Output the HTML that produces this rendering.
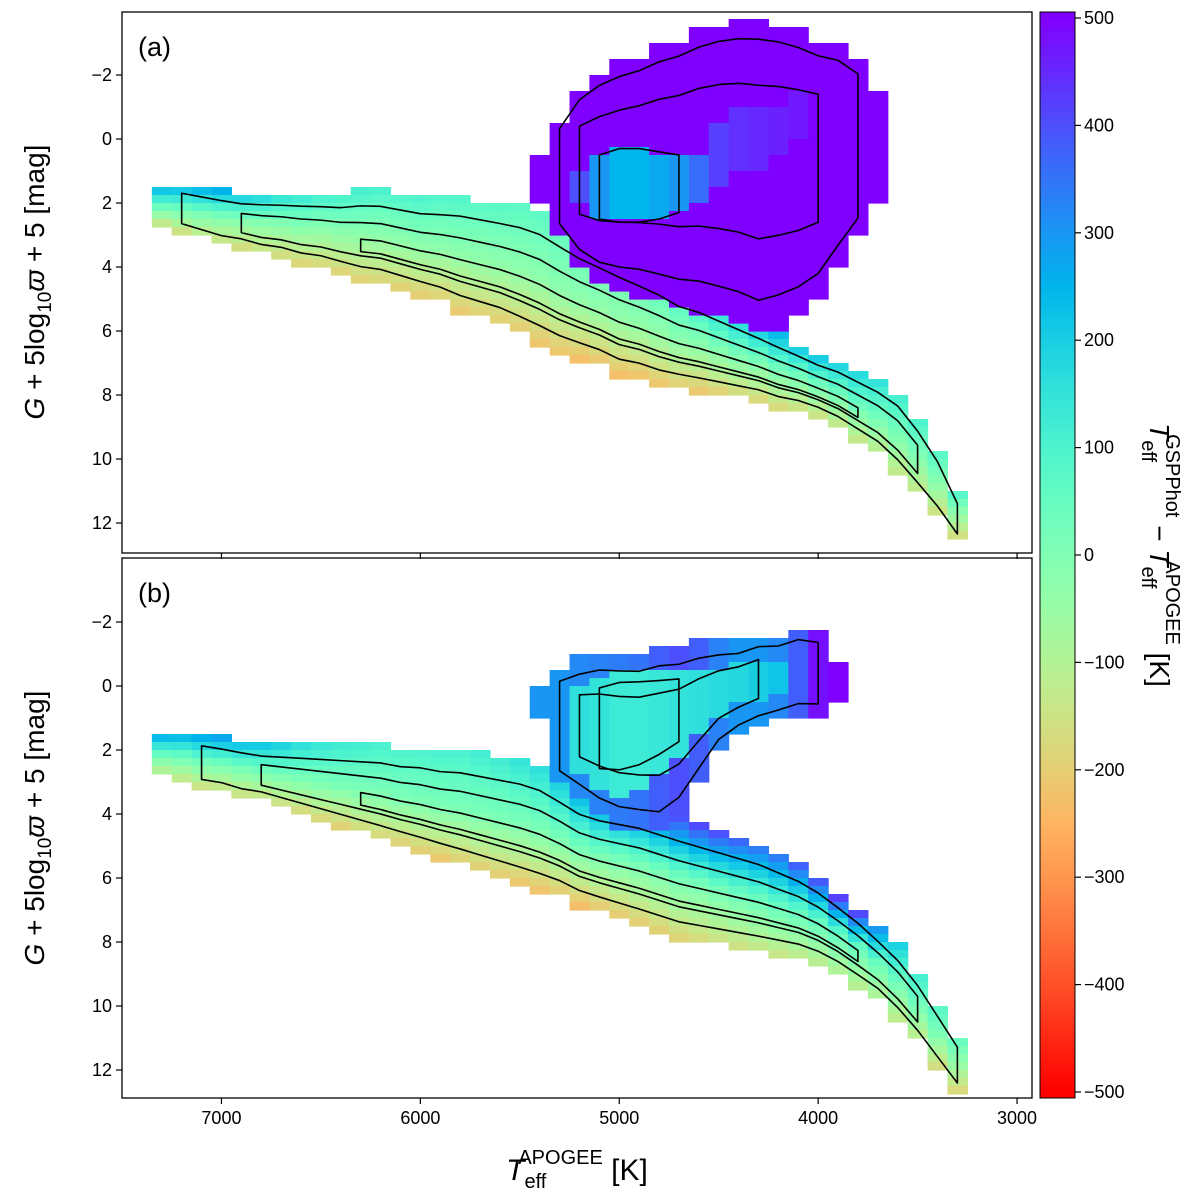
<!DOCTYPE html>
<html><head><meta charset="utf-8">
<style>
html,body{margin:0;padding:0;background:#fff;}
svg{display:block;font-family:"Liberation Sans","DejaVu Sans",sans-serif;}
</style></head>
<body>
<svg id="chart" width="1200" height="1200" viewBox="0 0 1200 1200" xmlns="http://www.w3.org/2000/svg">
<defs>
<linearGradient id="cbgrad" x1="0" y1="0" x2="0" y2="1"></linearGradient>
<clipPath id="clipA"><rect x="122" y="12" width="910" height="541"/></clipPath>
<clipPath id="clipB"><rect x="122" y="558" width="910" height="540"/></clipPath>
</defs>
<g id="panelA"><g id="cellsA" clip-path="url(#clipA)"></g><g id="contA" clip-path="url(#clipA)"></g></g>
<g id="panelB"><g id="cellsB" clip-path="url(#clipB)"></g><g id="contB" clip-path="url(#clipB)"></g></g>
<rect x="122" y="12" width="910" height="541" fill="none" stroke="#000" stroke-width="1.3"/>
<rect x="122" y="558" width="910" height="540" fill="none" stroke="#000" stroke-width="1.3"/>
<g id="axes"></g>
<text x="138" y="56" font-size="27">(a)</text>
<text x="138" y="602" font-size="27">(b)</text>
<text x="577" y="1180" font-size="30" text-anchor="middle"><tspan font-style="italic">T</tspan><tspan font-size="20" dy="8">eff</tspan><tspan font-size="20" dx="-28" dy="-24">APOGEE</tspan><tspan dy="16"> [K]</tspan></text>
<text transform="translate(44,282) rotate(-90)" font-size="28" text-anchor="middle"><tspan font-style="italic">G</tspan> + 5log<tspan font-size="19" dy="7">10</tspan><tspan dy="-7" font-style="italic">ϖ</tspan> + 5 [mag]</text>
<text transform="translate(44,828) rotate(-90)" font-size="28" text-anchor="middle"><tspan font-style="italic">G</tspan> + 5log<tspan font-size="19" dy="7">10</tspan><tspan dy="-7" font-style="italic">ϖ</tspan> + 5 [mag]</text>
<rect x="1040" y="12" width="35" height="1086" fill="url(#cbgrad)" stroke="#000" stroke-width="1"/>
<text transform="translate(1150,555) rotate(90)" font-size="28" text-anchor="middle"><tspan font-style="italic">T</tspan><tspan font-size="20" dy="8">eff</tspan><tspan font-size="20" dx="-28" dy="-24">GSPPhot</tspan><tspan dy="16"> − </tspan><tspan font-style="italic">T</tspan><tspan font-size="20" dy="8">eff</tspan><tspan font-size="20" dx="-28" dy="-24">APOGEE</tspan><tspan dy="16"> [K]</tspan></text>
</svg>
<script>
// ---- data ----
const bandTeff = [7300,7200,7100,7000,6900,6800,6700,6600,6500,6400,6300,6200,6100,6000,5900,5800,5700,5600,5500,5400,5300,5200,5100,5000,4900,4800,4700,4600,4500,4400,4300,4200,4100,4000,3900,3800,3700,3600,3500,3400,3300];
const bandTopA = [1.5,1.5,1.6,1.7,1.8,1.8,1.8,1.8,1.8,1.8,1.7,1.7,1.8,1.9,1.9,1.9,2.0,2.1,2.2,2.4,2.8,3.2,3.5,3.8,4.1,4.4,4.8,5.0,5.3,5.6,5.9,6.2,6.5,6.8,7.0,7.3,7.6,8.0,8.8,9.8,11.2];
const bandBotA = [2.6,2.8,3.0,3.2,3.3,3.5,3.6,3.8,3.9,4.1,4.3,4.4,4.6,4.8,5.0,5.3,5.5,5.7,6.0,6.3,6.6,6.8,7.0,7.3,7.4,7.6,7.7,7.8,7.9,8.0,8.1,8.3,8.4,8.6,8.9,9.3,9.7,10.3,11.0,11.7,12.5];
const bandTopValA = [260,250,240,230,200,180,150,130,110,100,100,90,90,90,80,80,70,70,60,60,60,60,60,60,60,80,100,150,180,200,220,220,220,220,200,180,150,120,100,80,60];
const bandMidValA = [60,40,20,0,-10,-20,-20,-20,-30,-30,-30,-30,-30,-30,-30,-30,-30,-30,-30,-30,-30,-30,-30,-30,-30,-30,-20,-20,-10,0,0,10,10,20,30,40,30,20,0,-20,-60];
const bandBotValA = [-120,-130,-140,-150,-150,-160,-160,-170,-170,-180,-180,-180,-190,-190,-200,-200,-200,-200,-210,-210,-210,-220,-220,-220,-220,-210,-200,-200,-190,-180,-170,-160,-150,-140,-130,-120,-120,-120,-140,-160,-180];
const bandTopB = [1.5,1.5,1.6,1.7,1.8,1.9,1.9,1.9,1.9,1.9,1.9,1.9,2.0,2.0,2.1,2.1,2.2,2.3,2.4,2.6,3.0,3.4,3.6,3.7,3.8,4.0,4.2,4.4,4.6,4.8,5.0,5.3,5.6,6.0,6.5,7.0,7.6,8.2,9.0,10.0,11.0];
const bandBotB = [2.7,2.9,3.1,3.2,3.4,3.5,3.7,3.9,4.1,4.3,4.5,4.7,4.9,5.1,5.3,5.5,5.7,5.9,6.1,6.3,6.5,6.8,7.0,7.2,7.4,7.6,7.8,7.9,8.0,8.1,8.2,8.3,8.4,8.6,8.9,9.3,9.7,10.3,11.0,11.8,12.6];
const bandTopValB = [280,270,260,250,230,200,180,150,130,120,110,100,100,100,100,100,110,120,140,160,200,250,300,320,340,360,380,400,400,380,360,350,380,420,460,450,300,180,120,80,60];
const bandMidValB = [60,40,30,20,10,10,10,10,10,10,10,10,10,10,10,10,10,10,10,10,10,10,10,10,10,10,20,20,30,40,50,60,60,60,60,50,40,30,20,0,-40];
const bandBotValB = [-120,-130,-140,-150,-150,-160,-160,-170,-170,-180,-180,-180,-190,-190,-200,-200,-200,-200,-210,-210,-210,-220,-220,-210,-200,-190,-180,-170,-160,-150,-140,-130,-120,-110,-100,-100,-100,-110,-130,-150,-170];
const giantTeffA = [5400,5300,5200,5100,5000,4900,4800,4700,4600,4500,4400,4300,4200,4100,4000,3900,3800,3700];
const giantTopA = [0.5,-0.5,-1.5,-2.0,-2.3,-2.5,-2.8,-3.0,-3.3,-3.5,-3.6,-3.6,-3.5,-3.3,-3.0,-2.8,-2.3,-1.5];
const giantBotA = [2.0,3.0,4.0,4.5,4.7,4.8,5.0,5.2,5.3,5.5,5.7,6.0,5.8,5.5,5.0,4.0,3.0,2.0];
const giantCoreTopA = [0,0,1.0,0.5,0.3,0.3,0.4,0.5,0.5,-0.5,-1.0,-1.0,-1.0,-1.5,0,0,0,0];
const giantCoreBotA = [0,0,2.0,2.5,2.6,2.6,2.5,2.3,2.0,1.5,1.0,1.0,0.5,0,0,0,0,0];
const giantEdgeValA = [500,500,500,500,500,500,500,500,500,500,500,500,500,500,500,500,500,500];
const giantCoreValA = [0,0,400,300,250,250,270,300,360,420,440,450,460,470,0,0,0,0];
const giantTeffB = [5400,5300,5200,5100,5000,4900,4800,4700,4600,4500,4400,4300,4200,4100,4000,3900];
const giantTopB = [0.0,-0.5,-0.8,-1.0,-1.0,-1.0,-1.2,-1.2,-1.3,-1.3,-1.3,-1.5,-1.5,-1.7,-1.6,-0.7];
const giantBotB = [1.0,3.0,3.5,4.0,4.3,4.4,4.5,4.0,3.0,2.0,1.5,1.2,1.0,0.8,0.8,0.5];
const giantCoreTopB = [0,0,0.0,-0.3,-0.5,-0.5,-0.5,-0.5,-0.5,-0.5,-0.7,-0.8,-0.8,0,0,0];
const giantCoreBotB = [0,0,2.8,3.3,3.4,3.2,2.8,2.3,1.5,1.0,0.6,0.5,0.3,0,0,0];
const giantEdgeValB = [300,300,320,330,340,350,380,400,380,330,300,300,320,380,480,500];
const giantCoreValB = [0,0,160,150,130,130,140,150,160,170,180,200,220,0,0,0];
const xTicks = [7000,6000,5000,4000,3000];
const yTicks = [-2,0,2,4,6,8,10,12];
const cbTicks = [500,400,300,200,100,0,-100,-200,-300,-400,-500];

// ---- scales ----
const NS='http://www.w3.org/2000/svg';
const xT = t => 122 + (7500 - t) * 0.1989;
const yA = m => 139 + m * 32;
const yB = m => 686 + m * 32;
const cbY = v => 18 + (500 - v) * 1.074;
function cmap(v){
  let x=(500-v)/1000; x=Math.max(0,Math.min(1,x));
  const r=Math.min(1,Math.abs(2*x-0.5)), g=Math.sin(Math.PI*x), b=Math.cos(Math.PI*x/2);
  return 'rgb('+Math.round(r*255)+','+Math.round(g*255)+','+Math.round(Math.max(0,b)*255)+')';
}
function mk(tag, attrs, parent){
  const e=document.createElementNS(NS,tag);
  for(const k in attrs) e.setAttribute(k,attrs[k]);
  parent.appendChild(e); return e;
}
const DM=0.25, DT=100;
function drawBand(g, ys, top, bot, tv, mv, bv){
  bandTeff.forEach((t,i)=>{
    for(let m=Math.floor(top[i]/DM)*DM; m<bot[i]; m+=DM){
      const f=(m+DM/2-top[i])/(bot[i]-top[i]);
      const v = f<0.5 ? tv[i]+(mv[i]-tv[i])*(f/0.5) : mv[i]+(bv[i]-mv[i])*((f-0.5)/0.5);
      const r=mk('rect',{x:xT(t+DT/2),y:ys(m),width:xT(t-DT/2)-xT(t+DT/2)+0.6,height:DM*32+0.6,fill:cmap(v)},g);
      
      
    }
  });
}
function drawGiant(g, ys, teff, top, bot, ct, cb, ev, cv){
  teff.forEach((t,i)=>{
    for(let m=Math.floor(top[i]/DM)*DM; m<bot[i]; m+=DM){
      const mc=m+DM/2;
      const v=(mc>=ct[i] && mc<cb[i]) ? cv[i] : ev[i];
      const r=mk('rect',{x:xT(t+DT/2),y:ys(m),width:xT(t-DT/2)-xT(t+DT/2)+0.6,height:DM*32+0.6,fill:cmap(v)},g);
      
      
    }
  });
}
function loop(g, teff, top, bot, ys, fTop, fBot, name){
  let pts=[];
  teff.forEach((t,i)=>{const w=bot[i]-top[i]; pts.push(xT(t)+','+ys(top[i]+w*fTop));});
  for(let i=teff.length-1;i>=0;i--){const w=bot[i]-top[i]; pts.push(xT(teff[i])+','+ys(bot[i]-w*fBot));}
  const p=mk('polygon',{points:pts.join(' '),fill:'none',stroke:'#000','stroke-width':1.6,'stroke-linejoin':'round'},g);
  
  
}
const cA=document.getElementById('cellsA'), cB=document.getElementById('cellsB');
drawBand(cA,yA,bandTopA,bandBotA,bandTopValA,bandMidValA,bandBotValA);
drawGiant(cA,yA,giantTeffA,giantTopA,giantBotA,giantCoreTopA,giantCoreBotA,giantEdgeValA,giantCoreValA);
drawBand(cB,yB,bandTopB,bandBotB,bandTopValB,bandMidValB,bandBotValB);
drawGiant(cB,yB,giantTeffB,giantTopB,giantBotB,giantCoreTopB,giantCoreBotB,giantEdgeValB,giantCoreValB);
const kA=document.getElementById('contA'), kB=document.getElementById('contB');
const sl=(a,s,e)=>a.slice(s,e);
loop(kA,sl(bandTeff,1,41),sl(bandTopA,1,41),sl(bandBotA,1,41),yA,0.15,0.12,'contour-outer');
loop(kA,sl(bandTeff,4,39),sl(bandTopA,4,39),sl(bandBotA,4,39),yA,0.35,0.25,'contour-inner');
loop(kA,sl(bandTeff,10,36),sl(bandTopA,10,36),sl(bandBotA,10,36),yA,0.55,0.3,'contour-core');
loop(kA,sl(giantTeffA,1,17),sl(giantTopA,1,17),sl(giantBotA,1,17),yA,0.05,0.1,'contour-giant-outer');
loop(kA,sl(giantTeffA,2,15),sl(giantTopA,2,15),sl(giantBotA,2,15),yA,0.2,0.3,'contour-giant-inner');
loop(kA,sl(giantTeffA,3,8),sl(giantCoreTopA,3,8),sl(giantCoreBotA,3,8),yA,0,0,'contour-giant-core');
loop(kB,sl(bandTeff,2,41),sl(bandTopB,2,41),sl(bandBotB,2,41),yB,0.18,0.12,'contour-outer');
loop(kB,sl(bandTeff,5,39),sl(bandTopB,5,39),sl(bandBotB,5,39),yB,0.35,0.25,'contour-inner');
loop(kB,sl(bandTeff,10,36),sl(bandTopB,10,36),sl(bandBotB,10,36),yB,0.55,0.3,'contour-core');
loop(kB,sl(giantTeffB,1,15),sl(giantTopB,1,15),sl(giantBotB,1,15),yB,0.1,0.1,'contour-giant-outer');
loop(kB,sl(giantTeffB,2,12),sl(giantTopB,2,12),sl(giantBotB,2,12),yB,0.25,0.3,'contour-giant-inner');
loop(kB,sl(giantTeffB,3,8),sl(giantCoreTopB,3,8),sl(giantCoreBotB,3,8),yB,0.1,0.2,'contour-giant-core');

// axes
const ax=document.getElementById('axes');
const minus=v=>v<0?'−'+Math.abs(v):''+v;
xTicks.forEach(t=>{
  [553,1098].forEach(yb=>{
    const l=mk('line',{x1:xT(t),x2:xT(t),y1:yb,y2:yb+6,stroke:'#000','stroke-width':1.2},ax);
    
    
  });
  const tx=mk('text',{x:xT(t),y:1124,'font-size':18,'text-anchor':'middle'},ax);
  tx.textContent=t;
  
  
});
[yA,yB].forEach(ys=>{
  yTicks.forEach(m=>{
    const l=mk('line',{x1:116,x2:122,y1:ys(m),y2:ys(m),stroke:'#000','stroke-width':1.2},ax);
    
    
    const tx=mk('text',{x:112,y:ys(m)+6,'font-size':18,'text-anchor':'end'},ax);
    tx.textContent=minus(m);
    
    
  });
});
const grad=document.getElementById('cbgrad');
for(let i=0;i<=20;i++){
  const v=500-i*50, off=(cbY(v)-12)/1086;
  mk('stop',{offset:off,'stop-color':cmap(v)},grad);
}
cbTicks.forEach(v=>{
  const l=mk('line',{x1:1075,x2:1081,y1:cbY(v),y2:cbY(v),stroke:'#000','stroke-width':1.2},ax);
  
  
  const tx=mk('text',{x:1084,y:cbY(v)+6,'font-size':18},ax);
  tx.textContent=minus(v);
  
  
});
</script>
</body></html>
